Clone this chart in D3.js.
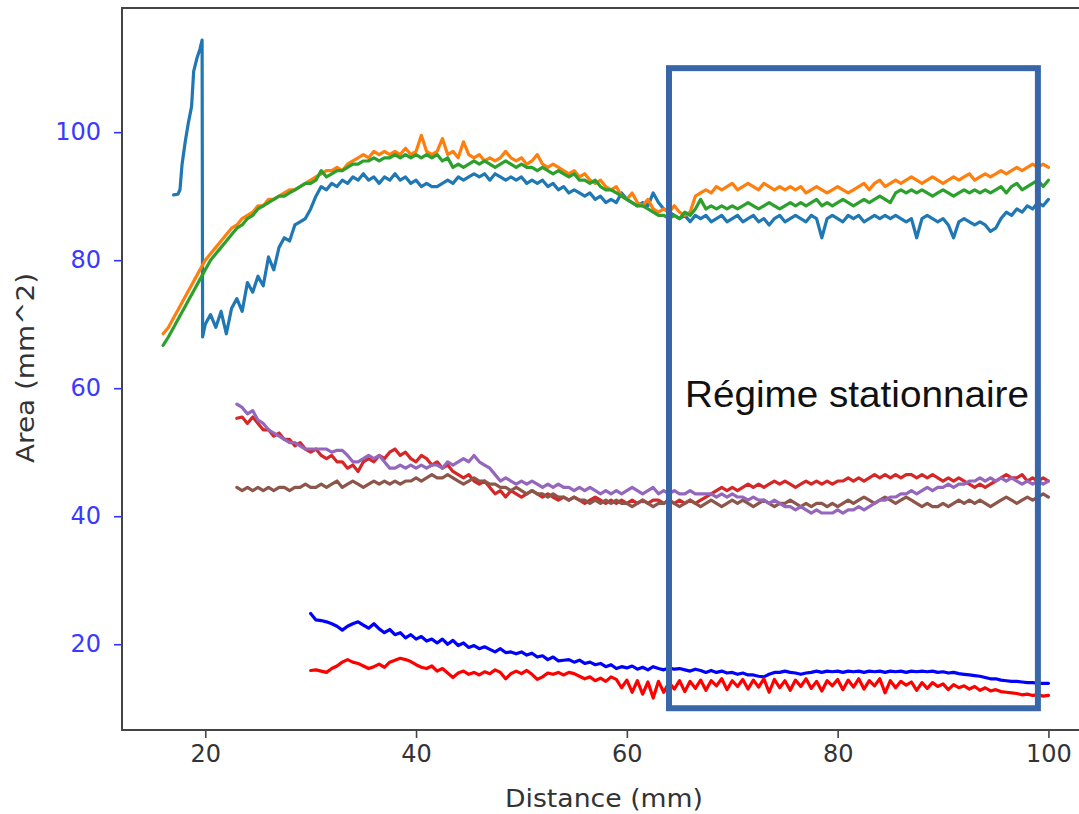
<!DOCTYPE html>
<html><head><meta charset="utf-8">
<script src="https://cdn.jsdelivr.net/npm/d3@7"></script>
<style>html,body{margin:0;padding:0;background:#fff;}svg{display:block;}</style>
</head><body>
<svg id="chart" width="1079" height="814"></svg>
<script>
// ---- data ----
const xTicks = [20, 40, 60, 80, 100];
const yTicks = [20, 40, 60, 80, 100];
const xLabel = "Distance (mm)";
const yLabel = "Area (mm^2)";
const boxLabel = "Régime stationnaire";
const boxX = [64.0, 99.0];
const boxY = [10.0, 110.0];

// series 1 (tab:blue): irregular head then sampled every 0.5 mm from 20
const s1HeadX = [17.0, 17.4, 17.6, 17.8, 18.1, 18.4, 18.7, 18.9, 19.2, 19.5, 19.7, 19.75];
const s1HeadY = [90.2, 90.3, 91.0, 95.0, 98.5, 101.5, 104, 109.5, 111.5, 113, 114.4, 68.0];
const s1Start = 20.0;
const s1 = [70,71.5,69.5,72,68.5,72.5,74,72,76.5,75,77.5,76,80.5,78.5,82,83.5,83,85.5,86,86.5,
  88,90,91.5,91,92,91.5,92.5,92,93,92.5,93.5,92.5,93,92,93,92.5,93.5,92.5,93,92,
  92.5,91.5,92,91.5,91.5,92,92.5,92,93,92.5,93,93.5,93,93.5,92.5,93.5,93,92.5,93,92.5,
  93,92,92.5,92,92.5,91.5,92,91,91.5,90.5,91,90.5,90,90.5,89.5,90,89,89.5,89,90.5,
  89.5,89,88.5,89,88.5,90.5,89,88,87.5,87,86.5,87,86,87,86.5,87,86,86.5,87,86,
  86.5,87,86,86.5,87,86,86.5,85.5,86.5,87,86,86.5,87,86.5,86,87,86.5,83.5,86.5,87,
  86.5,86,87,86.5,87,86,86.5,87,86.5,87,86.5,87,86.5,86,86.5,83.5,86.5,87,86.5,86,
  86.5,85.5,83.5,86,86.5,86,85.5,86,85.5,84.5,85,86.5,87.5,87,88,87.5,88.5,88,89,88.5,89.5];

// series 2 (tab:orange), every 0.5 mm from 16
const s2Start = 16.0;
const s2 = [68.5,69.5,71,72.5,74,75.5,77,78.5,80,81,82,83,84,85,85.5,86.5,87,87.5,88.5,88.5,
  89.5,89.5,90,90.5,91,91,91.5,92,92.5,93,93.5,94,94,94.5,94,95,95.5,96,96.5,96,
  97,96.5,97,96.5,97,96.5,97.5,96.5,97,99.5,97,96.5,97,99,96.5,97,96,98.5,96.5,96,
  96.5,95.5,96,95.5,96,97,96,95.5,96,95,95.5,96.5,95,94.5,95,94.5,94,93.5,94,93,
  93.5,92.5,92,92.5,91.5,91,91.5,90,89.5,90.5,89,88.5,89.5,88,87.5,88,87.5,88.5,87.5,87,
  87.5,90,90.5,91,90.5,91.5,91,91.5,92,91,91.5,92,91.5,91,92,91.5,91,91.5,91,91.5,
  91,91.5,90.5,91,91.5,91,90.5,91,91.5,91,90.5,91,91.5,92,91,92,92.5,91.5,92,92.5,
  92,92.5,93,92.5,92,92.5,93,92.5,92,92.5,93,92.5,93,93.5,92.5,93,93.5,93,93.5,94,
  93.5,94,94.5,94,94.5,95,94.5,95,94.5];

// series 3 (tab:green), every 0.5 mm from 16
const s3Start = 16.0;
const s3 = [66.7,68,69.5,71,72.5,74,75.5,77,78.5,80,81,82,83,84,85,85.5,86.5,87,88,88.5,
  89,89.5,90,90,90.5,91,91.5,92,92,92.5,94,93,93.5,94,94,94.5,95,95,95.5,95.5,
  96,95.5,96,96,96.5,96,96.5,96,96.5,96,96.5,96,96.5,95.5,96,94.5,95,94.5,95,95.5,
  95,95.5,95,94.5,95,95.5,95,94.5,95,94.5,94.5,94,94.5,94,93.5,94,93.5,93,93.5,92.5,
  92.5,92,92.5,91.5,91,91,90.5,90,89.5,89,88.5,88.5,88,87.5,87,87,86.5,87,86.5,87.5,
  87,88,89.5,88,88.5,88,88.5,88,88.5,88,88.5,89,88.5,88,88.5,89,88.5,88,88.5,89,
  88.5,89,88.5,89,89.5,88.5,89,88.5,89,89.5,89,88.5,89,89.5,89,89.5,90,89.5,89,90.5,
  91,90.5,91,90.5,91,90.5,90,90.5,91,90.5,90,90.5,91,90.5,91,90.5,91,90.5,91,91.5,
  90.5,91.5,92,91,91.5,92,92.5,91.5,92.5];

// series 4 (tab:red), every 0.5 mm from 23
const s4Start = 23.0;
const s4 = [55.3,55.5,54.5,55.5,54.5,53.5,53.5,52.5,53,52,52,51,51.5,50.5,50,50.5,49.5,49,49.5,48.5,
  48.5,47.5,48,47,48.5,49,48.5,49.5,49,50,50.5,49.5,50,49,48.5,49.5,49,48,48.5,47.5,
  48,47,46.5,46,46.5,45.5,45,45.5,44.5,43.5,44,43,44,43.5,43,43.5,44,43.5,43,43.5,
  43,42.5,43,42.5,43,42.5,42,42.5,43,42.5,42,42.5,42,42.5,42,42.5,42,42.5,42,42.5,
  42.5,42,42.5,42,42.5,42,42.5,42,42.5,43,43.5,44,44.5,44,44.5,44,44.5,45,44.5,45,
  44.5,45,45.5,45,45.5,45,44.5,45,45.5,45,45.5,45,45.5,45,45.5,45.5,46,45.5,46,45.5,
  46,46.5,46,46.5,46,46.5,46,46.5,46.5,46,46.5,46,46.5,46,45.5,46,45.5,46,45.5,45,
  44.5,45,44.5,45,45.5,46,46.5,46,46,46.5,45.5,46,45.5,46,45.5];

// series 5 (tab:purple), every 0.5 mm from 23
const s5Start = 23.0;
const s5 = [57.5,57,56,56.5,55,54.5,53.5,53,52.5,52,51.5,51.5,51,50.5,50.5,50.5,50.5,50.5,50,50.3,
  50.3,49.5,48.5,48.5,49,49.5,49,49.5,48.5,47.5,47.5,48,47.5,48,47.5,48,47.5,48,48,47.5,
  48.5,48,48.5,49,48.5,49.5,48.5,48,47.5,46.5,45.5,46,45.5,45,45.5,45,45.5,45,44.5,45,
  44.5,45,44.5,44.5,44,44.5,44,44.5,44,43.5,44,43.5,44,43.5,44,44.5,44,43.5,44,44.5,
  43.5,44,43.5,44,43.5,43.5,44,43.5,43.5,43.5,43.5,43,43.5,43,43.5,43,43,42.5,43,42.5,
  42.5,42,42.5,42,41.5,41.5,41,41.5,41,40.5,41,40.5,40.5,40.5,41,40.5,41,41,41.5,41,
  41.5,42,42.5,42.5,43,43,43.5,43.5,44,43.5,44,44.5,44,44.5,44.5,45,44.5,45,45,45.5,
  45.5,46,45.5,46,45.5,46,45.5,46,45.5,45,45.5,45,45.5,45,45.5];

// series 6 (tab:brown), every 0.5 mm from 23
const s6Start = 23.0;
const s6 = [44.5,44,44.5,44,44.5,44,44.5,44,44.5,44.5,44,44.5,44.5,45,44.5,44.5,45,44.5,45,45.5,
  44.5,45,45.5,45,44.5,45,45.5,45,45.5,45,45.5,45,45.5,45.5,46,45.5,46,46.5,46,46,
  46.5,46,45.5,45,45.5,46,45.5,45.5,45,45,44.5,44.5,44,44.5,44,43.5,44,43.5,43.5,43,
  43.5,43,43,42.5,43,42.5,42.5,42,42.5,42,42.5,42,42.5,42,42,41.5,42,42.5,42,41.5,
  42,42,42.5,42,41.5,42,42.5,42,41.5,42,42.5,42,41.5,42,42.5,42,42.5,42,41.5,42,
  42.5,42,41.5,42,42,42.5,42,41.5,42,41.5,42,42,41.5,42,41.5,42,42.5,42,42.5,43,
  42.5,42,42.5,43,42.5,42,42.5,43,42.5,42,41.5,42,41.5,41.5,42,41.5,42,42.5,42,42.5,
  42,42.5,42,41.5,42,42.5,43,42.5,42,42.5,43,42.5,43,43.5,43];

// series 7 (blue), every 0.5 mm from 30
const s7Start = 30.0;
const s7 = [24.8,23.8,23.7,23.5,23.2,22.8,22.2,22.8,23.2,23.5,23,22.5,23.2,22.4,21.8,22.3,21.5,21.8,21,21.5,
  20.8,21.2,20.5,20.8,20.2,20.8,20,20.6,19.8,20.2,19.5,19.8,19.3,19.6,19.2,18.8,19.3,18.7,18.8,18.5,
  18.8,18.3,18.6,18,18.2,17.6,18,17.4,17.5,17.6,17.2,17.5,17,17.2,16.8,17,16.5,16.8,16.2,16.5,
  16.3,16.6,16.1,16.4,16,16.5,16.2,16,16.3,16.1,16.2,16,15.8,16.1,15.9,15.6,15.9,15.6,15.8,15.5,
  15.6,15.3,15.5,15.2,15.2,15,14.9,15.3,15.6,15.6,15.8,15.6,15.5,15.3,15.5,15.6,15.8,15.6,15.8,15.7,
  15.8,15.6,15.8,15.7,15.8,15.6,15.8,15.7,15.8,15.6,15.8,15.7,15.8,15.6,15.8,15.7,15.8,15.7,15.8,15.6,
  15.7,15.5,15.6,15.4,15.3,15.2,15.1,15,14.8,14.6,14.6,14.4,14.3,14.2,14.2,14.1,14,14,13.9,13.9,13.9];

// series 8 (red), every 0.5 mm from 30
const s8Start = 30.0;
const s8 = [15.9,16,15.8,15.6,16.2,16.6,17.2,17.6,17.2,17,16.6,16.2,16.5,16.9,16.4,17.2,17.5,17.8,17.6,17.3,
  16.8,16.4,16.2,16.6,15.8,16.2,15.5,14.8,15.5,15.8,15.3,15.6,15.2,15.7,15.4,16,15.6,14.6,15.4,15.8,
  15.4,15.9,15.3,14.5,14.9,15.5,15.3,15.6,15.2,15.6,15.4,15,14.6,14.9,14.3,14.7,14.2,14.9,14.5,13.2,
  14.4,12.5,14.3,12.2,14.1,11.6,14.2,12.5,14,13,14.3,12.6,14.2,13.1,14.4,12.8,14.3,13.5,14.6,12.9,
  14.3,13.4,14.5,13,14.4,13.3,14.6,12.5,14.5,13.2,14.3,12.8,14.4,13.4,14.6,13.1,14.2,12.7,14.3,13.5,
  14.5,12.9,14.4,13.3,14.6,13,14.3,13.5,14.6,12.4,14.3,13.2,14.2,13.6,14.1,12.8,14,13.1,14,13.4,
  13.8,12.9,13.7,13.2,13.5,13,13.4,12.8,13.2,12.7,12.9,12.6,12.5,12.4,12.3,12.1,12.2,12,12.1,11.9,12];

const seriesColors = ["#1f77b4","#ff7f0e","#2ca02c","#d62728","#8c564b","#9467bd","#0000ff","#ff0000"];

// ---- build ----
const W = 1079, H = 814;
const L = 122, T = 8, R = 1079, B = 730;
const svg = d3.select("#chart");
const x = d3.scaleLinear().domain([12.1, 102.9]).range([L, R]);
const y = d3.scaleLinear().domain([6.6, 119.4]).range([B, T]);

function sampled(start, vals) { return vals.map((v, i) => [start + 0.5 * i, v]); }
const data1 = s1HeadX.map((d, i) => [d, s1HeadY[i]]).concat(sampled(s1Start, s1));
const allSeries = [
  data1,
  sampled(s2Start, s2),
  sampled(s3Start, s3),
  sampled(s4Start, s4),
  sampled(s6Start, s6),
  sampled(s5Start, s5),
  sampled(s7Start, s7),
  sampled(s8Start, s8)
];

svg.append("defs").append("clipPath").attr("id", "clip")
  .append("rect").attr("x", L).attr("y", T).attr("width", R - L + 20).attr("height", B - T);

const line = d3.line().x(d => x(d[0])).y(d => y(d[1]));
const g = svg.append("g").attr("clip-path", "url(#clip)");
allSeries.forEach((s, i) => {
  g.append("path").datum(s).attr("d", line)
    .attr("fill", "none").attr("stroke", seriesColors[i])
    .attr("stroke-width", 3.2).attr("stroke-linejoin", "round").attr("stroke-linecap", "round");
});

// frame (spines)
svg.append("rect").attr("x", L).attr("y", T).attr("width", R - L + 10).attr("height", B - T)
  .attr("fill", "none").attr("stroke", "#444").attr("stroke-width", 2);

// axes
const xAxis = d3.axisBottom(x).tickValues(xTicks).tickSize(8).tickPadding(7);
const gx = svg.append("g").attr("transform", `translate(0,${B})`).call(xAxis);
gx.select(".domain").remove();
gx.selectAll("line").attr("stroke", "#444").attr("stroke-width", 1.6);
gx.selectAll("text").attr("font-family", "DejaVu Sans").attr("font-size", 24).attr("fill", "#333");

const yAxis = d3.axisLeft(y).tickValues(yTicks).tickSize(8).tickPadding(13);
const gy = svg.append("g").attr("transform", `translate(${L},0)`).call(yAxis);
gy.select(".domain").remove();
gy.selectAll("line").attr("stroke", "#3333ff").attr("stroke-width", 1.6);
gy.selectAll("text").attr("font-family", "DejaVu Sans").attr("font-size", 24).attr("fill", "#3a3aff");

svg.append("text").attr("x", 604).attr("y", 807).attr("text-anchor", "middle")
  .attr("font-family", "DejaVu Sans").attr("font-size", 25).attr("fill", "#333")
  .attr("textLength", 198).attr("lengthAdjust", "spacingAndGlyphs").text(xLabel);
svg.append("text").attr("transform", "translate(34,368) rotate(-90)").attr("text-anchor", "middle")
  .attr("font-family", "DejaVu Sans").attr("font-size", 25).attr("fill", "#333")
  .attr("textLength", 190).attr("lengthAdjust", "spacingAndGlyphs").text(yLabel);

// stationary regime box
svg.append("rect")
  .attr("x", x(boxX[0])).attr("y", y(boxY[1]))
  .attr("width", x(boxX[1]) - x(boxX[0])).attr("height", y(boxY[0]) - y(boxY[1]))
  .attr("fill", "none").attr("stroke", "#3767a8").attr("stroke-width", 6);
svg.append("text").attr("x", 685).attr("y", 407)
  .attr("font-family", "Liberation Sans, Arial, sans-serif").attr("font-size", 36).attr("fill", "#111")
  .attr("textLength", 344).attr("lengthAdjust", "spacingAndGlyphs")
  .text(boxLabel);
</script>
</body></html>
